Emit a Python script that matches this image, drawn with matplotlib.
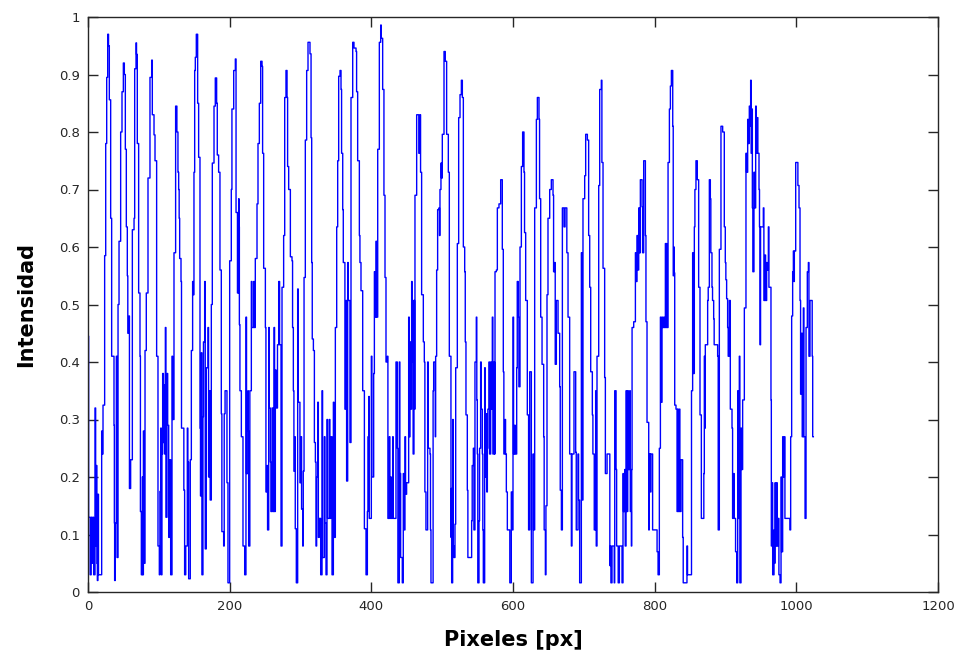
import numpy as np
import matplotlib
matplotlib.use("Agg")
import matplotlib.pyplot as plt

# perfil de intensidad, por tramos (pixel, intensidad)
tramo_1 = [(0, 0.445), (0.9, 0.13), (2, 0.13), (3, 0.03), (4.5, 0.13), (5.5, 0.05), (7, 0.13), (8, 0.03),
           (9.9, 0.32), (10.8, 0.08), (11.8, 0.22), (12.5, 0.05), (13.2, 0.02), (14, 0.17), (14.8, 0.03),
           (15.5, 0.03), (17.9, 0.03), (19.3, 0.28), (19.8, 0.24), (21.2, 0.325), (23.5, 0.585), (25, 0.78),
           (26.4, 0.895), (27.8, 0.97), (29, 0.95), (30.1, 0.856), (32, 0.65), (33.4, 0.41), (36.7, 0.29),
           (37.2, 0.12), (37.6, 0.02), (38.5, 0.12), (40, 0.41), (41, 0.06), (42.4, 0.5), (43.8, 0.61),
           (46.1, 0.80), (48, 0.87), (49.9, 0.92), (51.3, 0.90), (52.7, 0.77), (54.1, 0.635), (55.5, 0.55),
           (56.2, 0.45), (57.9, 0.48), (58.5, 0.18), (60.2, 0.23), (62.6, 0.63), (65, 0.65), (65.9, 0.91),
           (67.8, 0.955), (68.5, 0.935), (69.6, 0.78), (71.5, 0.52), (73.4, 0.41), (74, 0.14), (75.3, 0.03),
           (76.7, 0.2), (77.5, 0.03), (78.2, 0.28), (79, 0.05), (80.5, 0.42), (82.3, 0.52), (84.7, 0.72),
           (87.5, 0.895), (89.9, 0.925), (90.8, 0.83), (93.2, 0.795), (94.6, 0.75), (96.9, 0.41), (98.8, 0.08),
           (100.7, 0.03), (101.5, 0.175), (102.6, 0.285)]
tramo_2 = [(103.5, 0.03), (104.4, 0.24), (105.4, 0.38), (106.5, 0.26), (107.3, 0.36), (108.2, 0.24),
           (109.2, 0.46), (110, 0.13), (111.5, 0.38), (112.5, 0.29), (113.9, 0.095), (115.3, 0.23),
           (116.7, 0.03), (118.6, 0.41), (119.5, 0.30), (121.4, 0.59), (123.7, 0.845), (125.5, 0.80),
           (127, 0.73), (128, 0.70), (128.7, 0.65), (129.4, 0.58), (131.3, 0.54), (132, 0.285), (134.6, 0.285),
           (135.3, 0.177), (136.4, 0.03), (138, 0.08), (140.2, 0.285), (141, 0.226), (142.1, 0.023),
           (144.4, 0.23), (145.9, 0.42), (147.7, 0.54), (148.5, 0.517), (149.6, 0.73), (150.6, 0.907),
           (151.5, 0.93), (152.9, 0.97), (154.8, 0.85), (156.2, 0.756), (158.1, 0.285), (158.8, 0.167),
           (160, 0.416), (160.8, 0.03), (162.3, 0.305), (163, 0.435), (164.7, 0.54), (165.5, 0.075),
           (167, 0.39), (169.4, 0.46), (170.2, 0.2), (171.7, 0.35), (172.5, 0.16), (174.1, 0.50),
           (175.5, 0.746), (177.9, 0.845), (179.7, 0.894), (181.6, 0.85), (182.5, 0.76), (184.4, 0.73),
           (186.3, 0.56), (188.2, 0.31), (189, 0.105), (191.5, 0.08), (192.3, 0.31), (193.5, 0.35),
           (195.3, 0.35), (196.2, 0.19), (197.6, 0.016), (200, 0.576), (202.3, 0.70), (203.2, 0.84)]
tramo_3 = [(205.7, 0.907), (208, 0.927), (209, 0.66), (210.4, 0.66), (211, 0.52), (212.7, 0.684),
           (213.2, 0.635), (213.7, 0.465), (214.5, 0.35), (216.5, 0.27), (218.8, 0.08), (221.2, 0.03),
           (223, 0.478), (223.8, 0.206), (225.9, 0.35), (226.3, 0.28), (226.8, 0.08), (228.5, 0.35),
           (230.6, 0.54), (231.5, 0.46), (233.9, 0.54), (234.7, 0.46), (236.2, 0.58), (238.6, 0.675),
           (240, 0.78), (241.9, 0.85), (243.8, 0.923), (245.7, 0.914), (246.5, 0.763), (248, 0.563),
           (250.4, 0.46), (251.2, 0.174), (252.7, 0.22), (253.5, 0.108), (255.1, 0.46), (255.9, 0.32),
           (257.4, 0.226), (258.2, 0.14), (259.8, 0.32), (261, 0.14), (262.6, 0.46), (263.4, 0.14),
           (264.5, 0.386), (265.5, 0.32), (267.5, 0.43), (269.2, 0.54), (270.5, 0.43), (272.5, 0.08),
           (273.9, 0.53), (276.2, 0.62), (277.7, 0.86), (279.5, 0.907), (281, 0.86), (281.8, 0.74),
           (283.3, 0.70), (285.7, 0.583), (288, 0.576), (288.8, 0.46), (289.9, 0.35), (290.7, 0.21),
           (291.8, 0.27), (292.6, 0.11), (294.1, 0.016), (296, 0.527), (296.8, 0.33), (298.4, 0.33),
           (299.2, 0.19), (300.7, 0.27), (301.5, 0.144), (303.1, 0.08), (303.9, 0.21), (305, 0.547),
           (306.8, 0.786), (308.7, 0.907), (310.6, 0.956)]
tramo_4 = [(311.6, 0.956), (313.4, 0.936), (314.9, 0.79), (315.8, 0.573), (316.6, 0.44), (318.2, 0.42),
           (319.6, 0.26), (321, 0.226), (321.9, 0.08), (322.8, 0.2), (324.3, 0.33), (325.2, 0.095),
           (326.6, 0.128), (328.5, 0.03), (330.4, 0.35), (331.2, 0.06), (333.7, 0.27), (334.5, 0.12),
           (336, 0.03), (337.4, 0.30), (338.2, 0.128), (340.7, 0.30), (341.5, 0.128), (343.1, 0.27),
           (344.5, 0.03), (346.4, 0.33), (347.2, 0.095), (349.2, 0.46), (351.1, 0.635), (352.5, 0.75),
           (353.9, 0.897), (355.8, 0.907), (357.2, 0.874), (358, 0.763), (359.6, 0.665), (360.4, 0.573),
           (361.9, 0.573), (362.7, 0.318), (364.3, 0.507), (365.1, 0.193), (366.6, 0.573), (367.4, 0.507),
           (369, 0.507), (369.8, 0.26), (371.3, 0.86), (373.7, 0.956), (375.5, 0.946), (378.4, 0.94),
           (379.2, 0.87), (380.7, 0.75), (383.1, 0.62), (383.9, 0.573), (385.4, 0.524), (387.8, 0.35),
           (390.2, 0.11), (392.5, 0.03), (394.4, 0.14), (395.2, 0.27), (396.3, 0.34), (397.1, 0.128),
           (400, 0.41), (400.8, 0.2), (403.3, 0.38), (404.3, 0.557), (405.1, 0.478), (406.6, 0.61),
           (407.4, 0.478), (409, 0.77), (411.3, 0.956), (413.2, 0.986), (414, 0.963)]
tramo_5 = [(416, 0.874), (417.8, 0.69), (419.3, 0.547), (420.7, 0.40), (422.6, 0.41), (423.4, 0.128),
           (425.4, 0.27), (426.2, 0.128), (427.3, 0.2), (428.1, 0.128), (430.1, 0.27), (430.9, 0.128),
           (433.4, 0.128), (434.8, 0.40), (436.7, 0.25), (437.5, 0.016), (439.5, 0.40), (440.3, 0.206),
           (441.4, 0.06), (443.7, 0.016), (445.1, 0.206), (445.9, 0.108), (447.5, 0.27), (448.3, 0.17),
           (449.8, 0.19), (452.7, 0.478), (453.5, 0.27), (454.6, 0.435), (455.4, 0.318), (456.9, 0.54),
           (457.6, 0.4), (458.3, 0.507), (459, 0.24), (460.2, 0.507), (461, 0.318), (461.6, 0.69),
           (464, 0.83), (466.3, 0.83), (467, 0.763), (468.7, 0.83), (469.5, 0.73), (471, 0.517),
           (473.4, 0.435), (474.8, 0.40), (475.6, 0.174), (477.1, 0.108), (479.5, 0.40), (480.3, 0.25),
           (482.8, 0.24), (483.5, 0.108), (484.2, 0.016), (487.2, 0.35), (488, 0.40), (489.9, 0.40),
           (490.3, 0.27), (490.8, 0.41), (492.2, 0.56), (493.6, 0.665), (495.5, 0.668), (496.2, 0.62),
           (496.9, 0.70), (498.3, 0.746), (499, 0.72), (500.2, 0.796), (502.6, 0.94), (504.4, 0.923),
           (506.3, 0.796), (508.7, 0.73), (510.1, 0.41), (512.4, 0.095), (512.9, 0.18), (513.4, 0.016),
           (514.8, 0.30), (515.6, 0.08), (516.7, 0.06), (518.1, 0.118)]
tramo_6 = [(519.1, 0.39), (521.4, 0.606), (523.3, 0.825), (525.2, 0.865), (527.1, 0.89), (528.5, 0.86),
           (529.9, 0.60), (531.8, 0.557), (532.6, 0.435), (533.6, 0.308), (535.5, 0.177), (536.3, 0.06),
           (539.3, 0.06), (541.6, 0.124), (542.4, 0.22), (544, 0.25), (544.8, 0.108), (546.3, 0.40),
           (548.2, 0.478), (548.9, 0.334), (549.6, 0.24), (550.3, 0.016), (552, 0.124), (552.8, 0.25),
           (554.3, 0.40), (555.1, 0.318), (556.7, 0.24), (557.4, 0.108), (558.1, 0.016), (560, 0.39),
           (560.8, 0.2), (562.3, 0.31), (563, 0.174), (563.8, 0.25), (564.5, 0.318), (566.1, 0.40),
           (566.9, 0.24), (568.5, 0.40), (569.3, 0.318), (570.8, 0.478), (571.6, 0.24), (573.2, 0.40),
           (574, 0.24), (574.6, 0.557), (576.5, 0.56), (577.9, 0.668), (580.2, 0.675), (582.6, 0.717),
           (584.9, 0.596), (586.3, 0.383), (587.1, 0.24), (588.7, 0.30), (589.5, 0.24), (590.6, 0.174),
           (592, 0.108), (594.8, 0.108), (595.5, 0.016), (597.6, 0.174), (598.4, 0.108), (600, 0.478),
           (600.8, 0.24), (602.3, 0.29), (603.1, 0.24), (605.2, 0.39), (606, 0.54), (607.5, 0.478),
           (608.3, 0.357), (609.9, 0.60), (611.8, 0.74), (613.6, 0.80), (615.5, 0.73), (616.3, 0.625),
           (617.9, 0.507), (620.2, 0.308)]
tramo_7 = [(621.2, 0.308), (622, 0.108), (623.6, 0.383), (625.9, 0.016), (628.3, 0.24), (629, 0.108),
           (630.6, 0.668), (633, 0.822), (634.4, 0.86), (636.7, 0.822), (637.5, 0.684), (639.1, 0.478),
           (641, 0.396), (643.3, 0.27), (644, 0.108), (645.7, 0.03), (646.5, 0.15), (648, 0.517),
           (649.4, 0.65), (651.8, 0.70), (654.1, 0.717), (656.5, 0.69), (657.3, 0.557), (658.8, 0.573),
           (659.6, 0.396), (661.2, 0.507), (663.6, 0.45), (665.9, 0.357), (666.7, 0.177), (668.3, 0.108),
           (669.7, 0.668), (672, 0.635), (673.5, 0.668), (675.3, 0.668), (676, 0.59), (677.7, 0.478),
           (680, 0.24), (681, 0.24), (682.4, 0.08), (683.2, 0.24), (686.1, 0.383), (688.5, 0.243),
           (689.3, 0.108), (691.8, 0.24), (692.6, 0.16), (694.1, 0.016), (696.5, 0.59), (697.3, 0.16),
           (698.8, 0.684), (701.2, 0.724), (702.6, 0.796), (705, 0.786), (706.8, 0.62), (708.3, 0.53),
           (709.7, 0.383), (712, 0.308), (712.8, 0.24), (713.9, 0.24), (714.7, 0.108), (716.7, 0.35),
           (717.5, 0.08), (718.6, 0.41), (721, 0.707), (722.4, 0.874), (724.7, 0.89), (725.5, 0.747),
           (727.1, 0.563), (729.4, 0.373)]
tramo_8 = [(730.4, 0.206), (732.8, 0.24), (736, 0.24), (736.7, 0.046), (737.5, 0.08), (738.2, 0.016),
           (739.8, 0.08), (742.2, 0.08), (742.9, 0.016), (743.6, 0.35), (745.5, 0.213), (746.3, 0.08),
           (747.8, 0.08), (748.5, 0.016), (750.2, 0.08), (752, 0.08), (753.9, 0.016), (755.3, 0.206),
           (756, 0.14), (757.7, 0.213), (758.4, 0.08), (759.6, 0.35), (760.4, 0.14), (762, 0.35),
           (762.8, 0.213), (764.8, 0.35), (765.6, 0.14), (767.1, 0.08), (767.6, 0.213), (768.1, 0.46),
           (770.4, 0.47), (772.8, 0.59), (773.6, 0.54), (775.1, 0.62), (775.9, 0.56), (777.5, 0.668),
           (778.3, 0.59), (779.8, 0.717), (782.2, 0.67), (783, 0.59), (784.5, 0.75), (786.9, 0.62),
           (787.7, 0.47), (789.2, 0.295), (791.6, 0.108), (792.4, 0.24), (793.9, 0.174), (794.7, 0.24),
           (796.3, 0.24), (797.1, 0.108), (801, 0.108), (803.4, 0.07), (804.8, 0.03), (806.6, 0.25),
           (808.1, 0.478), (808.9, 0.33), (810.4, 0.478), (811.2, 0.46), (812.8, 0.478), (813.6, 0.46),
           (815.1, 0.606), (815.9, 0.46), (816.5, 0.606), (817.3, 0.46), (818.9, 0.747), (820.8, 0.84),
           (822.2, 0.88), (823.6, 0.907), (825.5, 0.81), (826.2, 0.55), (826.9, 0.60), (827.6, 0.555),
           (828.3, 0.325), (830.1, 0.318)]
tramo_9 = [(831.6, 0.14), (832.5, 0.318), (833.3, 0.14), (834.8, 0.318), (835.6, 0.14), (837.2, 0.23),
           (839.5, 0.095), (840.3, 0.016), (844.2, 0.016), (845.6, 0.08), (846.4, 0.03), (848, 0.03),
           (851.3, 0.03), (852, 0.35), (853.6, 0.59), (854.4, 0.38), (856, 0.635), (856.8, 0.70),
           (858.3, 0.75), (860.2, 0.717), (862.1, 0.53), (864, 0.308), (865.9, 0.128), (868.7, 0.128),
           (869.4, 0.206), (870.1, 0.41), (870.8, 0.285), (871.5, 0.43), (874.8, 0.507), (875.6, 0.53),
           (877.2, 0.717), (878.6, 0.684), (879.3, 0.59), (880.9, 0.53), (881.7, 0.507), (883.3, 0.475),
           (884, 0.43), (886.6, 0.43), (888.9, 0.41), (889.7, 0.108), (891.3, 0.596), (893.6, 0.81),
           (896, 0.80), (898.3, 0.635), (899.7, 0.573), (900.5, 0.543), (901.6, 0.51), (903, 0.46),
           (903.8, 0.41), (905.4, 0.507), (906.8, 0.318), (909.2, 0.285), (910, 0.128), (911.5, 0.206),
           (912.3, 0.128), (913.4, 0.128), (914.2, 0.07), (915.8, 0.016), (917.2, 0.35), (918, 0.128),
           (919.5, 0.41), (920.3, 0.016), (921.9, 0.285), (922.7, 0.213), (924.2, 0.334), (926.6, 0.494),
           (928.9, 0.763), (929.7, 0.73), (931.3, 0.822), (932, 0.78), (933.6, 0.845), (934.3, 0.81),
           (935.5, 0.89), (936.2, 0.763)]
tramo_10 = [(937, 0.84), (937.9, 0.668), (938.6, 0.557), (940.2, 0.73), (941, 0.668), (942.6, 0.845),
            (943.4, 0.763), (944.9, 0.825), (945.7, 0.763), (947.3, 0.70), (948, 0.635), (948.7, 0.43),
            (949.5, 0.635), (951.1, 0.635), (953.4, 0.668), (954.2, 0.507), (955.8, 0.586), (956.6, 0.507),
            (958.1, 0.573), (958.9, 0.56), (960.5, 0.635), (961.3, 0.53), (962.8, 0.53), (964.2, 0.334),
            (964.7, 0.08), (965.2, 0.19), (966.6, 0.03), (968.5, 0.108), (969.2, 0.05), (969.9, 0.19),
            (970.6, 0.08), (972.2, 0.19), (973, 0.08), (974.6, 0.128), (975.4, 0.03), (977, 0.016),
            (978.4, 0.2), (979.2, 0.07), (980.7, 0.27), (981.5, 0.2), (983.1, 0.27), (983.9, 0.128),
            (985.4, 0.128), (990.1, 0.128), (990.9, 0.108), (992, 0.27), (993.4, 0.48), (994.8, 0.557),
            (995.8, 0.593), (996.5, 0.54), (997.2, 0.593), (999.1, 0.747), (1001.4, 0.747), (1002.2, 0.707),
            (1003.8, 0.668), (1005.2, 0.507), (1006, 0.344), (1007.5, 0.45), (1008.3, 0.27), (1009.9, 0.494),
            (1010.7, 0.27), (1012.3, 0.128), (1013.7, 0.46), (1015.5, 0.557), (1017, 0.573), (1017.8, 0.41),
            (1019.3, 0.507), (1021.7, 0.507), (1022.4, 0.41), (1023.1, 0.27), (1024, 0.27)]

tramos = [tramo_1, tramo_2, tramo_3, tramo_4, tramo_5, tramo_6, tramo_7, tramo_8, tramo_9, tramo_10]
perfil = np.array([p for t in tramos for p in t])
pixeles = perfil[:, 0]
intensidad = perfil[:, 1]

x_ticks = [0, 200, 400, 600, 800, 1000, 1200]
y_ticks = [0, 0.1, 0.2, 0.3, 0.4, 0.5, 0.6, 0.7, 0.8, 0.9, 1]
y_labels = ["0", "0.1", "0.2", "0.3", "0.4", "0.5", "0.6", "0.7", "0.8", "0.9", "1"]

fig = plt.figure(figsize=(9.56, 6.58), dpi=100)
ax = fig.add_axes([88 / 956, 1 - 592 / 658, 850 / 956, 575 / 658])
ax.plot(pixeles, intensidad, color="#0000ff", linewidth=1.0, drawstyle="steps-post")

ax.set_xlim(0, 1200)
ax.set_ylim(0, 1)
ax.set_xticks(x_ticks)
ax.set_yticks(y_ticks)
ax.set_yticklabels(y_labels)
ax.tick_params(direction="in", length=7, width=1, top=True, right=True,
               labelsize=9.5, colors="#262626", pad=6)
for lab in ax.get_xticklabels() + ax.get_yticklabels():
    lab.set_family(["Liberation Sans Narrow", "DejaVu Sans"])
for s in ax.spines.values():
    s.set_color("#262626")
    s.set_linewidth(1.0)

ax.set_xlabel("Pixeles [px]", fontsize=15, fontweight="bold", labelpad=12)
ax.set_ylabel("Intensidad", fontsize=15, fontweight="bold", labelpad=16)

fig.savefig("out.png", dpi=100)
